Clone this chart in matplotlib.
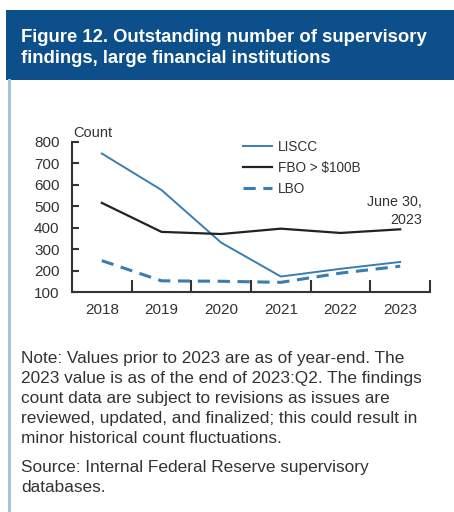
import matplotlib
matplotlib.use("Agg")
import matplotlib.pyplot as plt
from matplotlib.patches import Rectangle
from matplotlib.lines import Line2D

years = ["2018", "2019", "2020", "2021", "2022", "2023"]
liscc = [745, 575, 330, 172, 208, 240]
fbo = [515, 380, 370, 395, 375, 392]
lbo = [246, 152, 150, 145, 188, 220]
yticks = [100, 200, 300, 400, 500, 600, 700, 800]

title_lines = ["Figure 12. Outstanding number of supervisory",
               "findings, large financial institutions"]
note_lines = ["Note: Values prior to 2023 are as of year-end. The",
              "2023 value is as of the end of 2023:Q2. The findings",
              "count data are subject to revisions as issues are",
              "reviewed, updated, and finalized; this could result in",
              "minor historical count fluctuations."]
source_lines = ["Source: Internal Federal Reserve supervisory",
                "databases."]

W, H = 454, 512
fig = plt.figure(figsize=(W / 100, H / 100), dpi=100)
fig.patch.set_facecolor("white")

def fx(px):
    return px / W

def fy(py):
    return 1 - py / H

# Title box
fig.patches.append(Rectangle((fx(6), fy(80)), fx(448), (70) / H, transform=fig.transFigure,
                             facecolor="#0c4f8a", edgecolor="none"))
# left border line
fig.add_artist(Line2D([fx(8.5), fx(8.5)], [fy(80), fy(512)], transform=fig.transFigure,
                      color="#a9c3dc", lw=2.2))
sans = ["Liberation Sans", "DejaVu Sans"]
for i, line in enumerate(title_lines):
    fig.text(fx(21), fy(42 + i * 21), line, color="white", fontsize=13.3, fontweight="bold",
             family=sans, va="baseline")

cond = ["Liberation Sans Narrow", "Liberation Sans", "DejaVu Sans"]
textc = "#333333"
blue = "#3a7db0"

ax = fig.add_axes([fx(72), fy(292), fx(430) - fx(72), (292 - 141.7) / H])
x = list(range(len(years)))
ax.plot(x, liscc, color=blue, lw=1.4, label="LISCC")
ax.plot(x, fbo, color="#222222", lw=1.6, label="FBO > $100B")
ax.plot(x, lbo, color=blue, lw=2.2, ls=(0, (4, 2.5)), label="LBO")
ax.set_xlim(-0.5, 5.5)
ax.set_ylim(100, 800)
ax.set_yticks(yticks)
ax.set_xticks(x)
ax.set_xticklabels(years)
ax.set_xticks([i + 0.5 for i in range(6)], minor=True)
for s in ["top", "right"]:
    ax.spines[s].set_visible(False)
for s in ["left", "bottom"]:
    ax.spines[s].set_color("#333333")
    ax.spines[s].set_linewidth(1.5)
ax.tick_params(axis="x", which="major", length=0, pad=8, labelsize=11, labelcolor=textc)
ax.tick_params(axis="x", which="minor", direction="in", length=9, width=1.5, color="#333333")
ax.tick_params(axis="y", direction="in", length=5, width=1.5, color="#333333",
               labelsize=11, labelcolor=textc, pad=9)
for lab in ax.get_xticklabels() + ax.get_yticklabels():
    lab.set_family(cond)
ax.patch.set_alpha(0)

leg = ax.legend(loc="upper left", bbox_to_anchor=((243 - 72) / 358, 1.01), frameon=False,
                handlelength=2.1, handletextpad=0.45, labelspacing=0.5,
                prop={"family": cond, "size": 9.8}, borderaxespad=0, borderpad=0)
for t in leg.get_texts():
    t.set_color(textc)

fig.text(fx(73), fy(137), "Count", fontsize=10.5, family=cond, color=textc, va="baseline")
fig.text(fx(422), fy(206), "June 30,", fontsize=10.3, family=cond, color=textc, va="baseline", ha="right")
fig.text(fx(422), fy(224), "2023", fontsize=10.3, family=cond, color=textc, va="baseline", ha="right")

for i, line in enumerate(note_lines):
    fig.text(fx(21), fy(363 + i * 20), line, fontsize=12.4, family=sans,
             color=textc, va="baseline")
for i, line in enumerate(source_lines):
    fig.text(fx(21), fy(472 + i * 20), line, fontsize=12.4, family=sans,
             color=textc, va="baseline")

fig.savefig("out.png", dpi=100)
